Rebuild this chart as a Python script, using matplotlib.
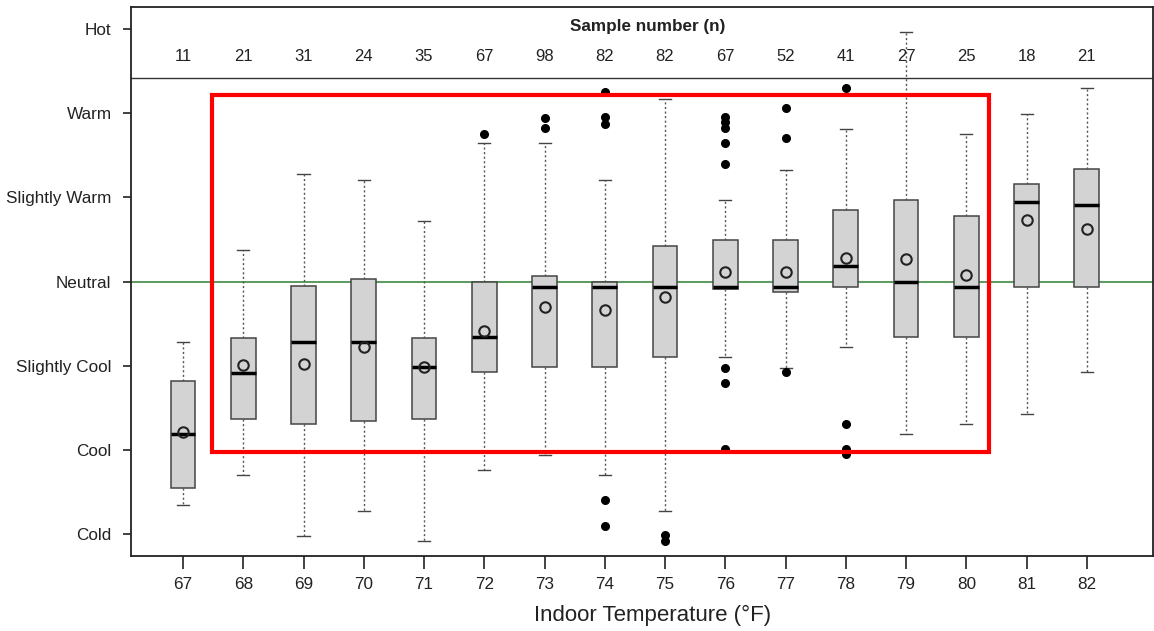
import matplotlib
matplotlib.use("Agg")
import matplotlib.pyplot as plt
from matplotlib.patches import Rectangle

plt.rcParams['font.family'] = ['Liberation Sans', 'DejaVu Sans']

# indoor temperature bins and thermal sensation summary per bin
temps = [67, 68, 69, 70, 71, 72, 73, 74, 75, 76, 77, 78, 79, 80, 81, 82]
n_samples = [11, 21, 31, 24, 35, 67, 98, 82, 82, 67, 52, 41, 27, 25, 18, 21]
whishi = [-0.72, 0.37, 1.28, 1.21, 0.72, 1.64, 1.64, 1.21, 2.17, 0.97, 1.33, 1.81, 2.96, 1.75, 1.99, 2.30]
q3 = [-1.18, -0.67, -0.05, 0.03, -0.67, 0.00, 0.06, 0.00, 0.42, 0.49, 0.49, 0.85, 0.97, 0.78, 1.16, 1.34]
med = [-1.81, -1.09, -0.72, -0.72, -1.02, -0.66, -0.06, -0.06, -0.06, -0.07, -0.06, 0.19, 0.00, -0.06, 0.94, 0.91]
means = [-1.79, -0.99, -0.98, -0.78, -1.02, -0.59, -0.30, -0.34, -0.19, 0.11, 0.11, 0.28, 0.27, 0.08, 0.73, 0.62]
q1 = [-2.45, -1.63, -1.69, -1.66, -1.63, -1.08, -1.02, -1.02, -0.90, -0.09, -0.12, -0.06, -0.66, -0.66, -0.06, -0.06]
whislo = [-2.66, -2.30, -3.02, -2.72, -3.08, -2.24, -2.06, -2.30, -2.72, -0.90, -1.03, -0.78, -1.81, -1.69, -1.57, -1.08]
outliers = [
    [], [], [], [], [],
    [1.75],
    [1.94, 1.82],
    [2.25, 1.95, 1.87, -2.60, -2.90],
    [-3.01, -3.08],
    [1.95, 1.89, 1.82, 1.64, 1.39, -1.03, -1.21, -1.99],
    [2.06, 1.70, -1.08],
    [2.30, -1.69, -1.99, -2.05],
    [], [], [], [],
]

sensation_vals = [-3, -2, -1, 0, 1, 2, 3]
sensation_labels = ["Cold", "Cool", "Slightly Cool", "Neutral",
                    "Slightly Warm", "Warm", "Hot"]

# highlighted range (68..80 F) and header band
hl_first, hl_last = 68, 80
header_line = 2.42

fig = plt.figure(figsize=(11.54, 6.31), dpi=100)
ax = fig.add_axes([131 / 1154, 1 - 556 / 631, 1021.5 / 1154, 549 / 631])

pos = list(range(1, len(temps) + 1))
stats = []
for i in range(len(temps)):
    stats.append(dict(med=med[i], q1=q1[i], q3=q3[i], whislo=whislo[i],
                      whishi=whishi[i], mean=means[i], fliers=outliers[i]))

ax.bxp(stats, positions=pos, widths=0.41, patch_artist=True, showmeans=True,
       boxprops=dict(facecolor='#d3d3d3', edgecolor='#444444', linewidth=1.1),
       medianprops=dict(color='black', linewidth=2.5),
       whiskerprops=dict(color='#555555', linewidth=1.0, linestyle=(0, (1.5, 1.8))),
       capprops=dict(color='#444444', linewidth=1.0),
       capwidths=0.2,
       meanprops=dict(marker='o', markersize=7.5, markerfacecolor='none',
                      markeredgecolor='#222222', markeredgewidth=1.5),
       flierprops=dict(marker='o', markersize=5.5, markerfacecolor='black',
                       markeredgecolor='black'))

ax.set_xlim(0.137, 17.09)
ax.set_ylim(-3.26, 3.26)

ax.axhline(0, color='#2f7f2f', linewidth=1.1, zorder=1)
ax.axhline(header_line, color='#333333', linewidth=1.0)

# red highlight box
i0 = temps.index(hl_first) + 1
i1 = temps.index(hl_last) + 1
ax.add_patch(Rectangle((i0 - 0.52, -2.03), (i1 + 0.38) - (i0 - 0.52), 2.217 + 2.03,
                       fill=False, edgecolor='#ff0000', linewidth=3, zorder=5))

# sample numbers in header band
for p, n in zip(pos, n_samples):
    ax.text(p, 2.67, str(n), ha='center', va='center', fontsize=12, color='#222222')
ax.text(8.72, 3.025, "Sample number (n)", ha='center', va='center',
        fontsize=12.3, fontweight='bold', color='#222222')

ax.set_xticks(pos)
ax.set_xticklabels([str(t) for t in temps])
ax.set_yticks(sensation_vals)
ax.set_yticklabels(sensation_labels)
ax.tick_params(axis='x', length=9, width=1.2, pad=6, labelsize=12.3, colors='#222222')
ax.tick_params(axis='y', length=6, width=1.2, pad=8, labelsize=12.3, colors='#222222')

for s in ax.spines.values():
    s.set_linewidth(1.3)
    s.set_color('#222222')

fig.text(653 / 1154, 1 - 615 / 631, "Indoor Temperature (°F)", ha='center',
         va='center', fontsize=16, color='#222222')

fig.savefig("out.png", dpi=100)
